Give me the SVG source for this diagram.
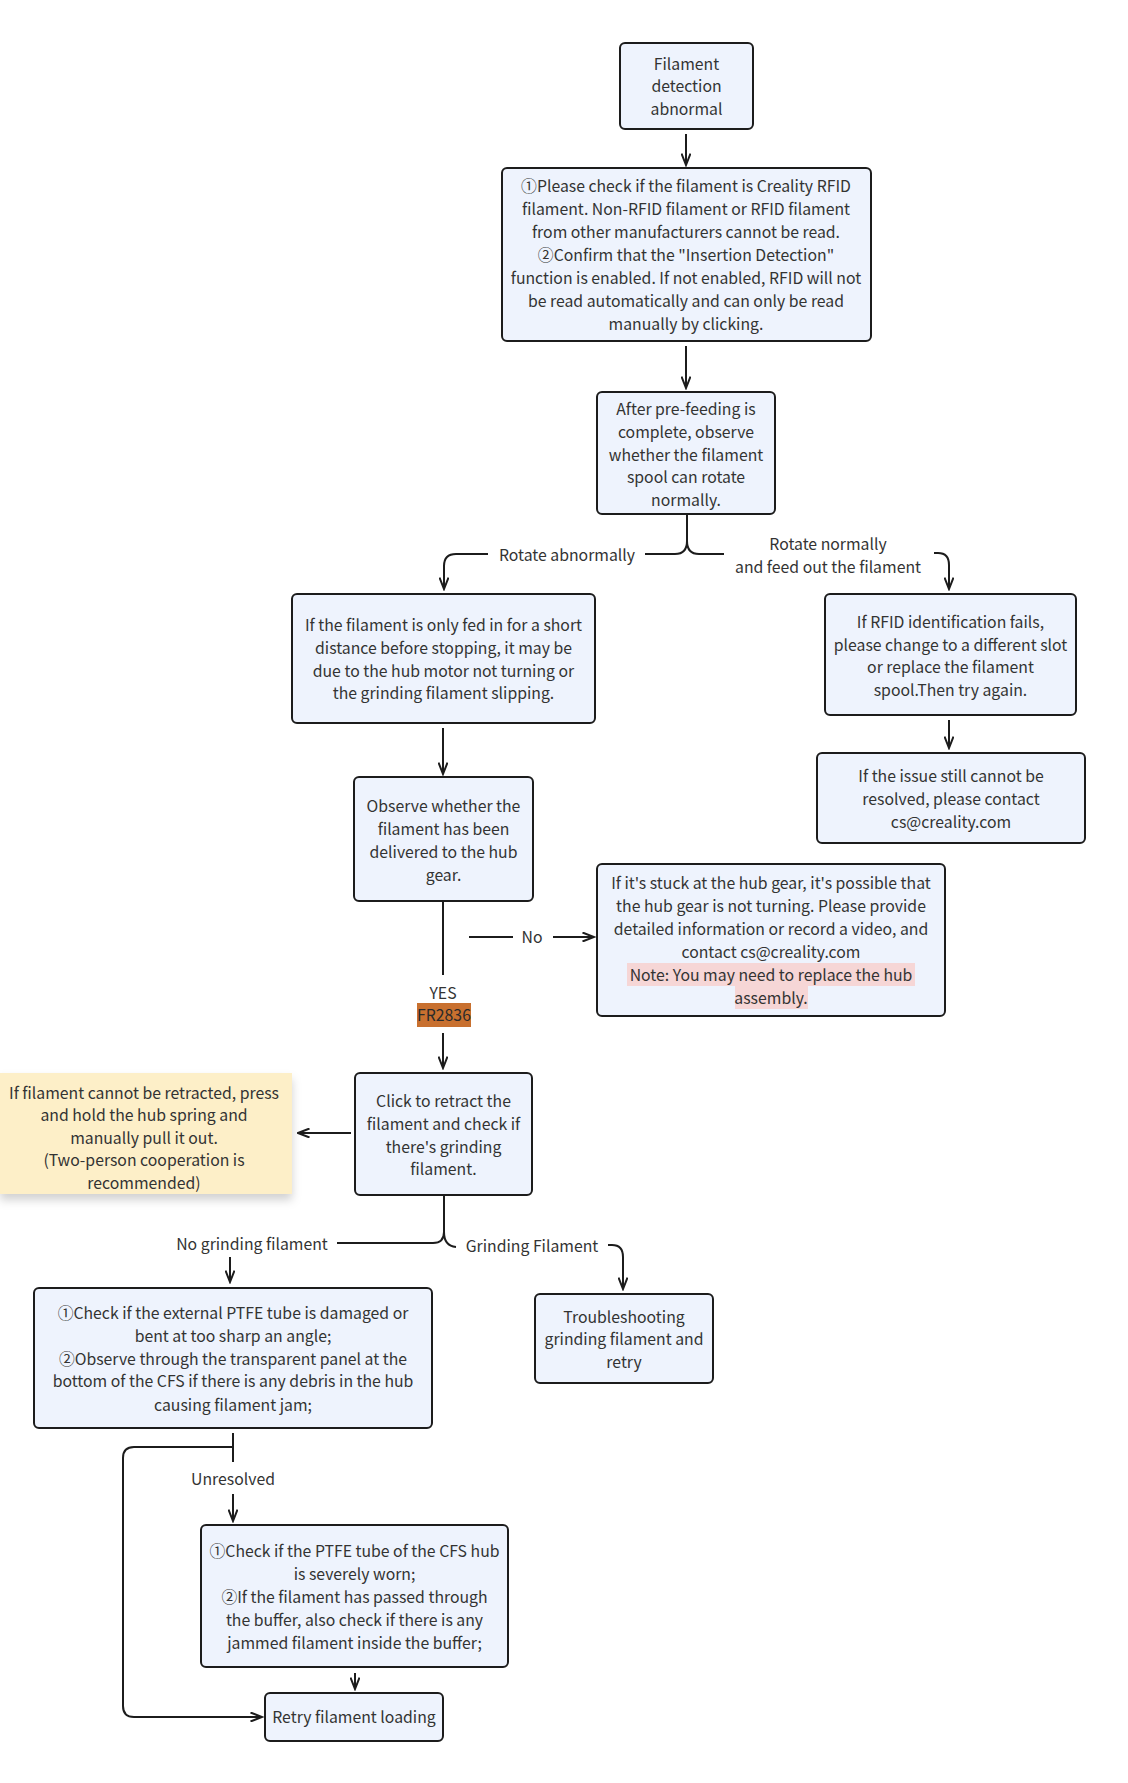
<svg xmlns="http://www.w3.org/2000/svg" width="1128" height="1783" viewBox="0 0 1128 1783">
<defs>
<style>
.box{fill:#eef3fd;stroke:#1c1c1c;stroke-width:2}
.t{font-family:"Noto Sans CJK SC","Source Sans Pro","Noto Sans",sans-serif;font-size:15.8px;fill:#333;text-anchor:middle}
.c{fill:none;stroke:#1c1c1c;stroke-width:2}
.a{fill:none;stroke:#1c1c1c;stroke-width:2;marker-end:url(#ah)}
</style>
<marker id="ah" viewBox="0 0 14 10" refX="12.5" refY="5" markerWidth="14" markerHeight="10" markerUnits="userSpaceOnUse" orient="auto">
<path d="M1 0.5 L12.5 5 L1 9.5" fill="none" stroke="#1c1c1c" stroke-width="2"/>
</marker>
<filter id="sh" x="-10%" y="-20%" width="120%" height="150%">
<feDropShadow dx="0" dy="6" stdDeviation="5" flood-color="#000" flood-opacity="0.18"/>
</filter>
</defs>
<rect width="1128" height="1783" fill="#fff"/>

<g id="connectors">
<path class="a" d="M686 134 V165"/>
<path class="a" d="M686 346 V388"/>
<path class="c" d="M687 515 V541 Q687 554 675 554 H645"/>
<path class="c" d="M687 541 Q687 554 699 554 H724"/>
<path class="a" d="M488 554 H456 Q444 554 444 566 V589"/>
<path class="a" d="M934 553 H938 Q949 553 949 565 V589"/>
<path class="a" d="M443 728 V774"/>
<path class="a" d="M949 720 V748"/>
<path class="c" d="M443 902 V975"/>
<path class="c" d="M469 937 H513"/>
<path class="a" d="M553 937 H594"/>
<path class="a" d="M443 1033 V1068"/>
<path class="a" d="M351 1133 H298"/>
<path class="c" d="M444 1196 V1232 Q444 1243 433 1243 H337"/>
<path class="c" d="M444 1232 Q444 1246 456 1247"/>
<path class="a" d="M608 1245 H612 Q623 1245 623 1257 V1289"/>
<path class="a" d="M230 1257 V1282"/>
<path class="c" d="M233 1433 V1462"/>
<path class="a" d="M233 1447 H134 Q123 1447 123 1458 V1706 Q123 1717 134 1717 H262"/>
<path class="a" d="M233 1494 V1521"/>
<path class="a" d="M355 1673 V1689"/>
</g>

<g id="labels" class="t">
<text x="567" y="561">Rotate abnormally</text>
<text x="828" y="550">Rotate normally</text>
<text x="828" y="573">and feed out the filament</text>
<text x="532" y="943">No</text>
<text x="443" y="999">YES</text>
<text x="252" y="1250">No grinding filament</text>
<text x="532" y="1252">Grinding Filament</text>
<text x="233" y="1485">Unresolved</text>
</g>

<g id="n1"><rect class="box" x="620" y="43" width="133" height="86" rx="5"/>
<text class="t"><tspan x="686.5" y="69.5">Filament</tspan><tspan x="686.5" y="92">detection</tspan><tspan x="686.5" y="114.5">abnormal</tspan></text></g>

<g id="n2"><rect class="box" x="502" y="168" width="369" height="173" rx="5"/>
<text class="t"><tspan x="686" y="192">①Please check if the filament is Creality RFID</tspan><tspan x="686" y="215">filament. Non-RFID filament or RFID filament</tspan><tspan x="686" y="238">from other manufacturers cannot be read.</tspan><tspan x="686" y="261">②Confirm that the "Insertion Detection"</tspan><tspan x="686" y="284">function is enabled. If not enabled, RFID will not</tspan><tspan x="686" y="307">be read automatically and can only be read</tspan><tspan x="686" y="330">manually by clicking.</tspan></text></g>

<g id="n3"><rect class="box" x="597" y="392" width="178" height="122" rx="5"/>
<text class="t"><tspan x="686" y="414.5">After pre-feeding is</tspan><tspan x="686" y="437.5">complete, observe</tspan><tspan x="686" y="460.5">whether the filament</tspan><tspan x="686" y="483">spool can rotate</tspan><tspan x="686" y="506">normally.</tspan></text></g>

<g id="n4"><rect class="box" x="292" y="594" width="303" height="129" rx="5"/>
<text class="t"><tspan x="443.5" y="631">If the filament is only fed in for a short</tspan><tspan x="443.5" y="654">distance before stopping, it may be</tspan><tspan x="443.5" y="677">due to the hub motor not turning or</tspan><tspan x="443.5" y="699">the grinding filament slipping.</tspan></text></g>

<g id="n5"><rect class="box" x="354" y="777" width="179" height="124" rx="5"/>
<text class="t"><tspan x="443.5" y="812">Observe whether the</tspan><tspan x="443.5" y="835">filament has been</tspan><tspan x="443.5" y="857.5">delivered to the hub</tspan><tspan x="443.5" y="880.5">gear.</tspan></text></g>

<g id="n6"><rect class="box" x="825" y="594" width="251" height="121" rx="5"/>
<text class="t"><tspan x="950.5" y="628">If RFID identification fails,</tspan><tspan x="950.5" y="651">please change to a different slot</tspan><tspan x="950.5" y="673">or replace the filament</tspan><tspan x="950.5" y="696">spool.Then try again.</tspan></text></g>

<g id="n7"><rect class="box" x="817" y="753" width="268" height="90" rx="5"/>
<text class="t"><tspan x="951" y="782">If the issue still cannot be</tspan><tspan x="951" y="805">resolved, please contact</tspan><tspan x="951" y="828">cs@creality.com</tspan></text></g>

<g id="n8"><rect class="box" x="597" y="864" width="348" height="152" rx="5"/>
<rect x="627" y="963" width="288" height="23" fill="#f6d6d6"/>
<rect x="735" y="986" width="73" height="23" fill="#f6d6d6"/>
<text class="t"><tspan x="771" y="888.5">If it's stuck at the hub gear, it's possible that</tspan><tspan x="771" y="911.5">the hub gear is not turning. Please provide</tspan><tspan x="771" y="935">detailed information or record a video, and</tspan><tspan x="771" y="958">contact cs@creality.com</tspan><tspan x="771" y="981">Note: You may need to replace the hub</tspan><tspan x="771" y="1004">assembly.</tspan></text></g>

<g id="fr2836"><rect x="417" y="1003" width="54" height="24" fill="#c8702f"/>
<text class="t" x="444" y="1021" style="fill:#2a2a2a">FR2836</text></g>

<g id="n9"><rect class="box" x="355" y="1073" width="177" height="122" rx="5"/>
<text class="t"><tspan x="443.5" y="1107">Click to retract the</tspan><tspan x="443.5" y="1130">filament and check if</tspan><tspan x="443.5" y="1152.5">there's grinding</tspan><tspan x="443.5" y="1175">filament.</tspan></text></g>

<g id="note"><rect x="0" y="1073" width="292" height="121" fill="#fdefc8" filter="url(#sh)"/>
<text class="t"><tspan x="144" y="1098.5">If filament cannot be retracted, press</tspan><tspan x="144" y="1121">and hold the hub spring and</tspan><tspan x="144" y="1143.5">manually pull it out.</tspan><tspan x="144" y="1166">(Two-person cooperation is</tspan><tspan x="144" y="1189">recommended)</tspan></text></g>

<g id="n10"><rect class="box" x="535" y="1294" width="178" height="89" rx="5"/>
<text class="t"><tspan x="624" y="1322.5">Troubleshooting</tspan><tspan x="624" y="1345">grinding filament and</tspan><tspan x="624" y="1368">retry</tspan></text></g>

<g id="n11"><rect class="box" x="34" y="1288" width="398" height="140" rx="5"/>
<text class="t"><tspan x="233" y="1318.5">①Check if the external PTFE tube is damaged or</tspan><tspan x="233" y="1341.5">bent at too sharp an angle;</tspan><tspan x="233" y="1364.5">②Observe through the transparent panel at the</tspan><tspan x="233" y="1387">bottom of the CFS if there is any debris in the hub</tspan><tspan x="233" y="1410.5">causing filament jam;</tspan></text></g>

<g id="n12"><rect class="box" x="201" y="1525" width="307" height="142" rx="5"/>
<text class="t"><tspan x="354.5" y="1557">①Check if the PTFE tube of the CFS hub</tspan><tspan x="354.5" y="1579.5">is severely worn;</tspan><tspan x="354.5" y="1602.5">②If the filament has passed through</tspan><tspan x="354.5" y="1626">the buffer, also check if there is any</tspan><tspan x="354.5" y="1648.5">jammed filament inside the buffer;</tspan></text></g>

<g id="n13"><rect class="box" x="265" y="1693" width="178" height="48" rx="5"/>
<text class="t" x="354" y="1723">Retry filament loading</text></g>
</svg>
